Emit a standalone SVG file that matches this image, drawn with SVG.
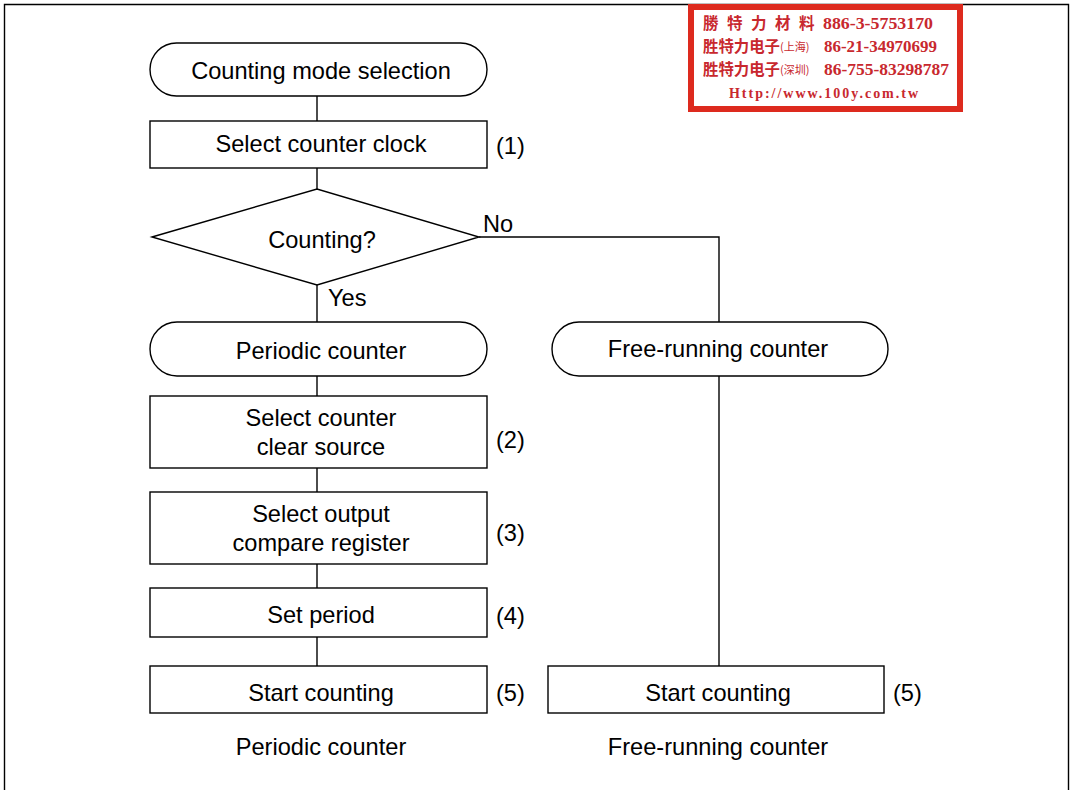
<svg xmlns="http://www.w3.org/2000/svg" width="1072" height="790" viewBox="0 0 1072 790">
<style>
.s{fill:none;stroke:#000;stroke-width:1.4}
.n{fill:#fff;stroke:#000;stroke-width:1.4}
.t{font-family:"Liberation Sans",Arial,sans-serif;font-size:23.6px;fill:#000}
.m{text-anchor:middle}
.r{font-family:"Liberation Serif","Noto Sans CJK SC",serif;font-weight:bold;fill:#c8282e}
.rc{font-family:"Noto Sans CJK SC","Noto Sans CJK TC",sans-serif;font-weight:bold;fill:#c8282e}
</style>
<rect width="1072" height="790" fill="#fff"/>
<g id="frame">
<path class="s" d="M4.5,790 V4.5 H1068.5 V790"/>
</g>
<g id="stamp">
<rect x="691" y="7" width="269" height="102" fill="#fff" stroke="#dd2a1e" stroke-width="6"/>
<g class="rc" font-size="15.5">
<text x="703" y="29">勝</text><text x="727" y="29">特</text><text x="751" y="29">力</text><text x="775" y="29">材</text><text x="799" y="29">料</text>
<text x="703" y="52" textLength="77" lengthAdjust="spacingAndGlyphs">胜特力电子</text>
<text x="703" y="75" textLength="77" lengthAdjust="spacingAndGlyphs">胜特力电子</text>
</g>
<g class="rc" font-size="11">
<text x="780" y="51" font-weight="normal">(上海)</text>
<text x="780" y="74" font-weight="normal">(深圳)</text>
</g>
<g class="r" font-size="16">
<text x="823" y="29" textLength="110" lengthAdjust="spacingAndGlyphs">886-3-5753170</text>
<text x="824" y="52" textLength="113" lengthAdjust="spacingAndGlyphs">86-21-34970699</text>
<text x="824" y="75" textLength="125" lengthAdjust="spacingAndGlyphs">86-755-83298787</text>
<text x="729" y="98" font-size="14" textLength="189" lengthAdjust="spacing">Http://www.100y.com.tw</text>
</g>
</g>
<g id="connectors">
<path class="s" d="M317,96 V121"/>
<path class="s" d="M317,168 V189"/>
<path class="s" d="M317,285 V322"/>
<path class="s" d="M479,237 H719 V322"/>
<path class="s" d="M317,376 V396"/>
<path class="s" d="M317,468 V492"/>
<path class="s" d="M317,564 V588"/>
<path class="s" d="M317,637 V666"/>
<path class="s" d="M719,376 V666"/>
<text class="t" x="483" y="232">No</text>
<text class="t" x="328" y="306">Yes</text>
</g>
<g id="start">
<rect class="n" x="150" y="43" width="337" height="53" rx="26.5"/>
<text class="t m" x="321" y="79">Counting mode selection</text>
</g>
<g id="clock">
<rect class="n" x="150" y="121" width="337" height="47"/>
<text class="t m" x="321" y="152">Select counter clock</text>
<text class="t" x="496" y="154">(1)</text>
</g>
<g id="decision">
<polygon class="n" points="152,237 317,189 479,237 317,285"/>
<text class="t m" x="322" y="248">Counting?</text>
</g>
<g id="periodic">
<rect class="n" x="150" y="322" width="337" height="54" rx="27"/>
<text class="t m" x="321" y="359">Periodic counter</text>
</g>
<g id="freerun">
<rect class="n" x="552" y="322" width="336" height="54" rx="27"/>
<text class="t m" x="718" y="357">Free-running counter</text>
</g>
<g id="clear">
<rect class="n" x="150" y="396" width="337" height="72"/>
<text class="t m" x="321" y="426">Select counter</text>
<text class="t m" x="321" y="455">clear source</text>
<text class="t" x="496" y="448">(2)</text>
</g>
<g id="compare">
<rect class="n" x="150" y="492" width="337" height="72"/>
<text class="t m" x="321" y="522">Select output</text>
<text class="t m" x="321" y="551">compare register</text>
<text class="t" x="496" y="541">(3)</text>
</g>
<g id="period">
<rect class="n" x="150" y="588" width="337" height="49"/>
<text class="t m" x="321" y="623">Set period</text>
<text class="t" x="496" y="624">(4)</text>
</g>
<g id="start1">
<rect class="n" x="150" y="666" width="337" height="47"/>
<text class="t m" x="321" y="701">Start counting</text>
<text class="t" x="496" y="701">(5)</text>
</g>
<g id="start2">
<rect class="n" x="548" y="666" width="336" height="47"/>
<text class="t m" x="718" y="701">Start counting</text>
<text class="t" x="893" y="701">(5)</text>
</g>
<g id="captions">
<text class="t m" x="321" y="755">Periodic counter</text>
<text class="t m" x="718" y="755">Free-running counter</text>
</g>
</svg>
